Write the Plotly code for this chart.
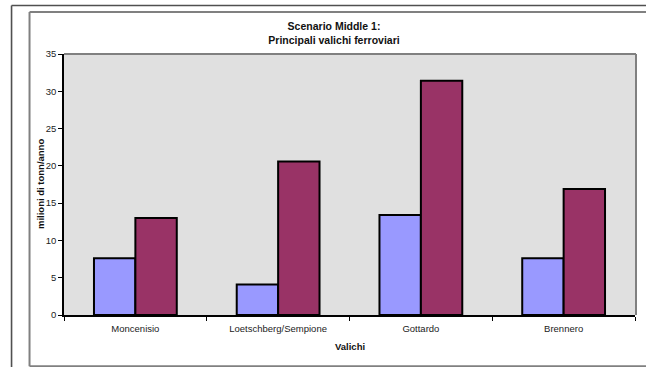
import plotly.graph_objects as go

# Rail freight through the main Alpine crossings (million tonnes per year)
valichi = ["Moncenisio", "Loetschberg/Sempione", "Gottardo", "Brennero"]
serie_a = [7.6, 4.1, 13.4, 7.6]
serie_b = [13.0, 20.6, 31.4, 16.9]

W, H = 646, 367
L, R, T, B = 63.5, 11, 54, 52.3
PW, PH = W - L - R, H - T - B


def px(x):
    return (x - L) / PW


def py(y):
    return (H - B - y) / PH


fig = go.Figure()
fig.add_trace(go.Bar(x=valichi, y=serie_a, marker=dict(color="#9999FF", line=dict(color="black", width=2))))
fig.add_trace(go.Bar(x=valichi, y=serie_b, marker=dict(color="#993366", line=dict(color="black", width=2))))

font = "Liberation Sans, Arial, sans-serif"


def hline(x0, x1, y, color, width):
    return dict(type="line", xref="paper", yref="paper", x0=px(x0), x1=px(x1), y0=py(y), y1=py(y),
                line=dict(color=color, width=width), layer="below")


def vline(x, y0, y1, color, width):
    return dict(type="line", xref="paper", yref="paper", x0=px(x), x1=px(x), y0=py(y0), y1=py(y1),
                line=dict(color=color, width=width), layer="below")


shapes = [
    # outer frame (left and top)
    hline(11, W, 5.5, "#505050", 1.6),
    vline(11, 5.5, H, "#505050", 1.6),
    # chart area frame (left, top, bottom)
    hline(29, W, 12, "#808080", 2),
    vline(29, 12, 366, "#808080", 2),
    hline(29, W, 366, "#808080", 2),
    # plot area border (top and right)
    dict(type="line", xref="paper", yref="paper", x0=0, x1=px(636), y0=1, y1=1,
         line=dict(color="#808080", width=2)),
    dict(type="line", xref="paper", yref="paper", x0=px(636), x1=px(636), y0=0, y1=1,
         line=dict(color="#808080", width=2)),
]

annotations = [
    dict(text="<b>milioni di tonn/anno</b>", xref="paper", yref="paper",
         x=px(40), y=0.5, xanchor="center", yanchor="middle", textangle=-90,
         showarrow=False, font=dict(size=9.5, color="#111111")),
    dict(text="<b>Valichi</b>", xref="paper", yref="paper",
         x=0.5, y=py(346), xanchor="center", yanchor="middle",
         showarrow=False, font=dict(size=9.5, color="#111111")),
]

fig.update_layout(
    width=W, height=H,
    margin=dict(l=L, r=R, t=T, b=B),
    paper_bgcolor="white",
    plot_bgcolor="#E0E0E0",
    showlegend=False,
    barmode="group",
    bargap=0.42,
    bargroupgap=0,
    font=dict(family=font, size=9.5, color="#222222"),
    title=dict(
        text="<b>Scenario Middle 1:<br>Principali valichi ferroviari</b>",
        x=334 / W, xanchor="center", xref="container",
        y=1 - 30 / H, yanchor="middle", yref="container",
        font=dict(family=font, size=10.5, color="#111111"),
    ),
    shapes=shapes,
    annotations=annotations,
    xaxis=dict(
        showline=True, linecolor="black", linewidth=1.5,
        ticks="outside", ticklen=4, tickcolor="black", tickwidth=1,
        tickson="boundaries", ticklabelstandoff=4,
        showgrid=False, zeroline=False,
        tickfont=dict(size=9.5, color="#222222"),
    ),
    yaxis=dict(
        range=[0, 35], dtick=5,
        showline=True, linecolor="black", linewidth=1.5,
        ticks="outside", ticklen=4, tickcolor="black", tickwidth=1,
        showgrid=False, zeroline=False,
        tickfont=dict(size=9.5, color="#222222"),
    ),
)

fig.write_html(
    "out.html",
    post_script="document.documentElement.style.overflow='hidden';"
                "document.body.style.overflow='hidden';document.body.style.margin='0';",
)
